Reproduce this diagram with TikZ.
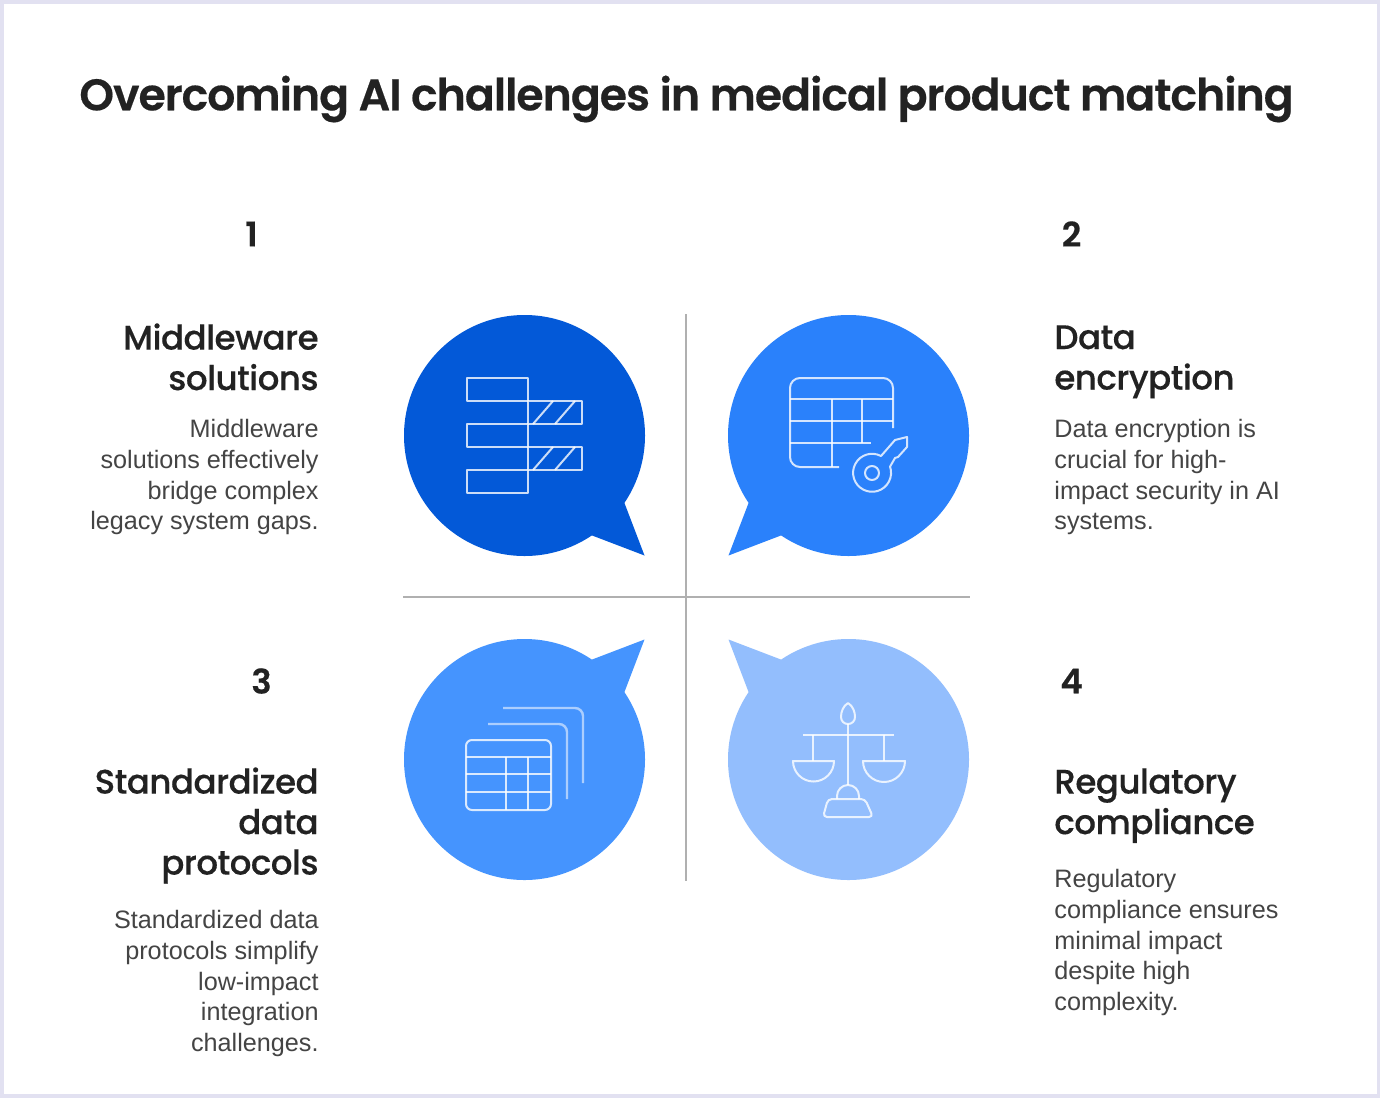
\documentclass[tikz,border=0pt]{standalone}
\usepackage{fontspec}
\setmainfont{Liberation Sans}
\newfontfamily\titlefont{Poppins SemiBold}[LetterSpace=-2.3,FakeBold=0.4]
\newfontfamily\numfont{Poppins SemiBold}[FakeBold=0.4]
\newfontfamily\headfont{Poppins Medium}[LetterSpace=-1.5,FakeBold=0.3]
\definecolor{framecol}{HTML}{E2E1F1}
\definecolor{inkcol}{HTML}{222222}
\definecolor{bodycol}{HTML}{444444}
\definecolor{axiscol}{HTML}{B0B0B0}
\definecolor{bubbleA}{HTML}{0359D8}
\definecolor{bubbleB}{HTML}{2A81FB}
\definecolor{bubbleC}{HTML}{4594FE}
\definecolor{bubbleD}{HTML}{93BEFD}
\tikzset{
	bubble/.style={circle,minimum size=120.5pt,inner sep=0pt,outer sep=0pt},
	numtext/.style={font=\numfont\fontsize{17}{20}\selectfont,text=inkcol,inner sep=0pt},
	headr/.style={font=\headfont\fontsize{17}{20.25}\selectfont,text=inkcol,align=right,anchor=north east,inner sep=0pt},
	headl/.style={font=\headfont\fontsize{17}{20.25}\selectfont,text=inkcol,align=left,anchor=north west,inner sep=0pt},
	bodyr/.style={font=\fontsize{12.6}{15.35}\selectfont,text=bodycol,align=right,anchor=north east,inner sep=0pt},
	bodyl/.style={font=\fontsize{12.6}{15.35}\selectfont,text=bodycol,align=left,anchor=north west,inner sep=0pt},
	icon/.style={draw=white,draw opacity=0.8,line width=1pt,line join=round},
	iconback/.style={draw=white,draw opacity=0.55,line width=1.2pt}
}
\begin{document}
\begin{tikzpicture}[x=0.5pt,y=-0.5pt]
	\useasboundingbox (0,0) rectangle (1380,1098);
	\fill[framecol] (0,0) rectangle (1380,1098);
	\fill[white] (4,4) rectangle (1377,1094);
	\node[font=\titlefont\fontsize{22.1}{26}\selectfont,text=inkcol,inner sep=0pt] (title) at (686.5,99) {Overcoming AI challenges in medical product matching};

	\coordinate (axistop) at (686,314);
	\coordinate (axisbottom) at (686,881);
	\coordinate (axisleft) at (403,597);
	\coordinate (axisright) at (970,597);
	\draw[axiscol,line width=1pt] (axistop) -- (axisbottom);
	\draw[axiscol,line width=1pt] (axisleft) -- (axisright);

	\node[bubble,fill=bubbleA] (bubble1) at (524.5,435.5) {};
	\coordinate (tip1) at (644.5,555.5);
	\fill[bubbleA] (bubble1.-34) -- (tip1) -- (bubble1.-56) -- cycle;
	\node[bubble,fill=bubbleB] (bubble2) at (848.5,435.5) {};
	\coordinate (tip2) at (728.5,555.5);
	\fill[bubbleB] (bubble2.214) -- (tip2) -- (bubble2.236) -- cycle;
	\node[bubble,fill=bubbleC] (bubble3) at (524.5,759.5) {};
	\coordinate (tip3) at (644.5,639.5);
	\fill[bubbleC] (bubble3.34) -- (tip3) -- (bubble3.56) -- cycle;
	\node[bubble,fill=bubbleD] (bubble4) at (848.5,759.5) {};
	\coordinate (tip4) at (728.5,639.5);
	\fill[bubbleD] (bubble4.146) -- (tip4) -- (bubble4.124) -- cycle;

	\draw[icon] (467,378) rectangle (528,401);
	\draw[icon] (467,424) rectangle (528,447);
	\draw[icon] (467,470) rectangle (528,493);
	\draw[icon] (528,401) rectangle (582,424);
	\draw[icon] (528,447) rectangle (582,470);
	\draw[icon] (533,424) -- (553,401);
	\draw[icon] (555,424) -- (575,401);
	\draw[icon] (533,470) -- (553,447);
	\draw[icon] (555,470) -- (575,447);

	\draw[icon,rounded corners=5pt] (839,467) -- (790,467) -- (790,378) -- (893,378) -- (893,428);
	\draw[icon] (790,399) -- (893,399);
	\draw[icon] (790,421) -- (893,421);
	\draw[icon] (790,443) -- (871,443);
	\draw[icon] (832,399) -- (832,467);
	\draw[icon] (862,399) -- (862,443);
	\draw[icon] (872,473) circle[radius=7];
	\draw[icon] (881,456) arc[start angle=-62,end angle=-379,radius=19] -- (895,458) -- (898,457) -- (907,447) -- (907,437) -- (895,440) -- cycle;

	\draw[iconback,rounded corners=4pt] (503,708) -- (583,708) -- (583,783);
	\draw[iconback,rounded corners=4pt] (488,724) -- (567,724) -- (567,799);
	\draw[icon,rounded corners=3pt] (466,740) rectangle (551,810);
	\draw[icon] (466,757) -- (551,757);
	\draw[icon] (466,774) -- (551,774);
	\draw[icon] (466,792) -- (551,792);
	\draw[icon] (506,757) -- (506,810);
	\draw[icon] (528,757) -- (528,810);

	\draw[icon] (848,703) .. controls (853,706) and (855,712) .. (855,717) .. controls (855,721) and (852,724) .. (848,724) .. controls (844,724) and (841,721) .. (841,717) .. controls (841,712) and (843,706) .. (848,703) -- cycle;
	\draw[icon] (848,724) -- (848,785);
	\draw[icon] (803,735) -- (894,735);
	\draw[icon] (813,735) -- (813,761);
	\draw[icon] (884,735) -- (884,761);
	\draw[icon] (793,761) -- (834,761) arc[start angle=0,end angle=180,radius=20.5] -- cycle;
	\draw[icon] (863,761) -- (905,761) arc[start angle=0,end angle=180,radius=21] -- cycle;
	\draw[icon] (837,799) -- (837,796) arc[start angle=180,end angle=360,radius=11] -- (859,799);
	\draw[icon,rounded corners=2pt] (828,799) -- (865,799) -- (873,817) -- (823,817) -- cycle;

	\node[numtext] (num1) at (251.5,234) {1};
	\node[numtext] (num2) at (1071.5,234) {2};
	\node[numtext] (num3) at (261.5,681) {3};
	\node[numtext] (num4) at (1071.5,681) {4};

	\node[headr] (head1) at (319,323) {Middleware\\solutions};
	\node[bodyr] (body1) at (319,419) {Middleware\\solutions effectively\\bridge complex\\legacy system gaps.};
	\node[headl] (head2) at (1054,325) {Data\\encryption};
	\node[bodyl] (body2) at (1054,419) {Data encryption is\\crucial for high-\\impact security in AI\\systems.};
	\node[headr] (head3) at (319,767) {Standardized\\data\\protocols};
	\node[bodyr] (body3) at (319,910) {Standardized data\\protocols simplify\\low-impact\\integration\\challenges.};
	\node[headl] (head4) at (1054,768) {Regulatory\\compliance};
	\node[bodyl] (body4) at (1054,869) {Regulatory\\compliance ensures\\minimal impact\\despite high\\complexity.};
\end{tikzpicture}
\end{document}
